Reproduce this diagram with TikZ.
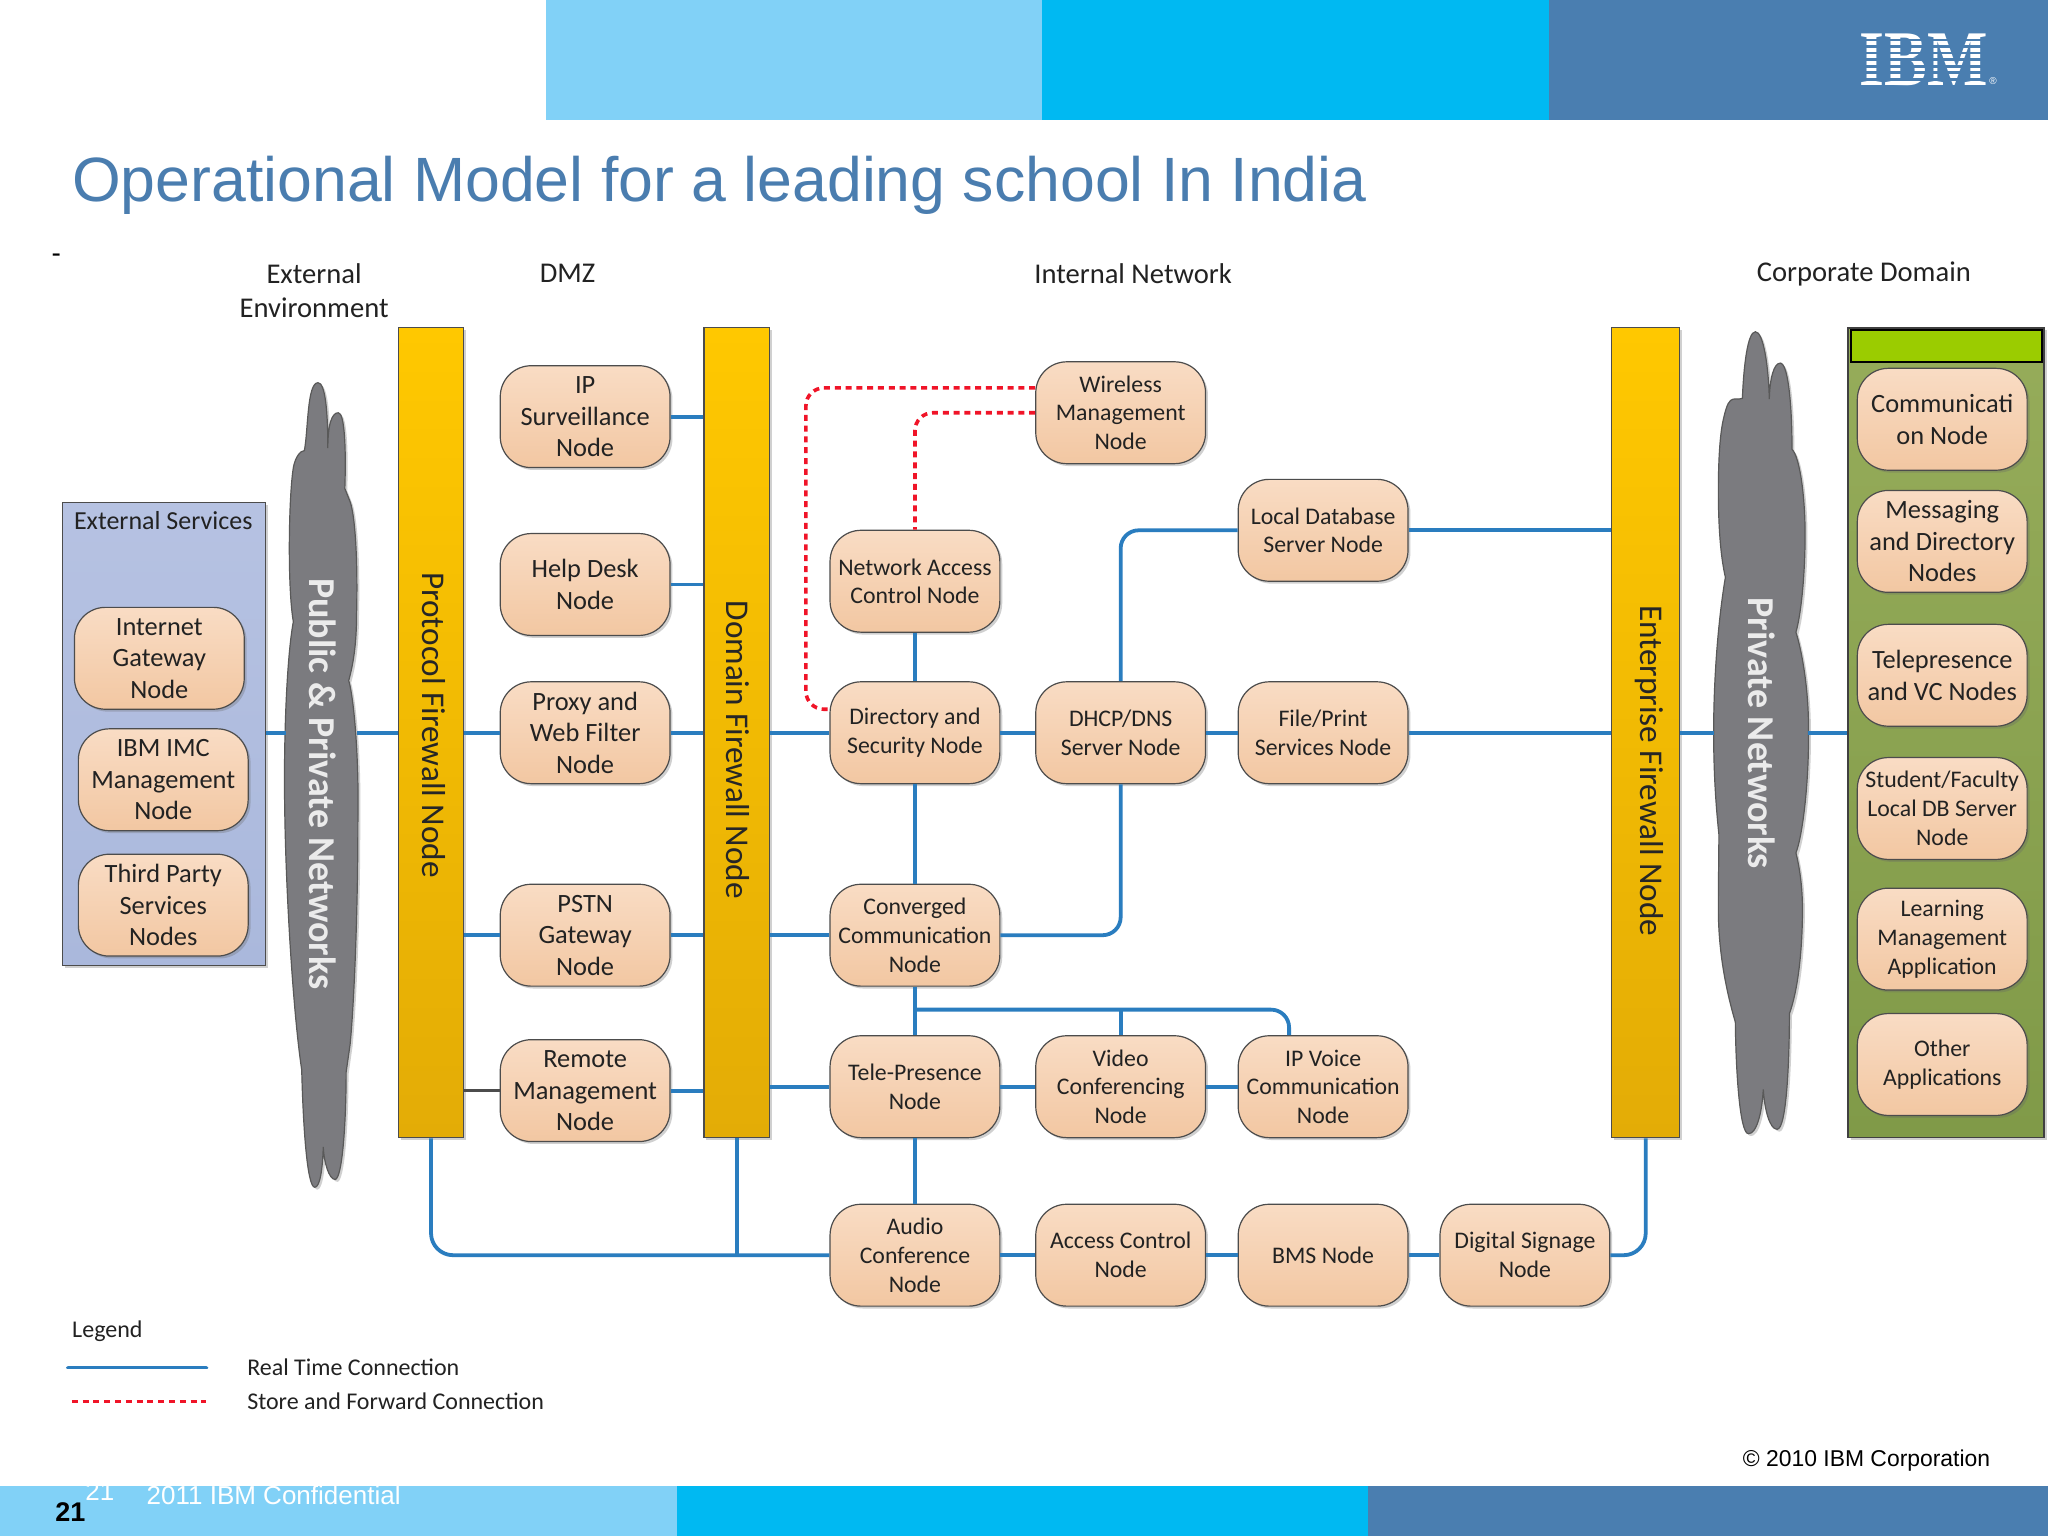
\documentclass[tikz,border=0pt]{standalone}
\usepackage{fontspec}
\usepackage{graphicx}
\setmainfont{Carlito}
\newfontfamily\arialf{Liberation Sans}
\newfontfamily\serifb{Liberation Serif}
\usetikzlibrary{shadows,calc}
\definecolor{bandL}{HTML}{81D1F7}
\definecolor{bandC}{HTML}{00B9F2}
\definecolor{bandB}{HTML}{4A7EB0}
\definecolor{titleblue}{HTML}{4A7DAF}
\definecolor{linkblue}{HTML}{2A7DBF}
\definecolor{linkred}{HTML}{F01428}
\definecolor{cloudgrey}{HTML}{7B7B7F}
\definecolor{ink}{HTML}{222222}
\definecolor{peachtop}{HTML}{F9DCC4}
\definecolor{peachbot}{HTML}{F2C7A2}
\definecolor{barTop}{HTML}{FFC800}
\definecolor{barBot}{HTML}{E3AC06}
\definecolor{extTop}{HTML}{B6C2E2}
\definecolor{extBot}{HTML}{AAB8DC}
\definecolor{corpTop}{HTML}{96AC5A}
\definecolor{corpBot}{HTML}{809A48}
\definecolor{corpBar}{HTML}{9BCC00}
\def\uu{0.65306}
\tikzset{
  softshadow/.style={drop shadow={shadow xshift=1.2pt,shadow yshift=-1.2pt,opacity=0.3,fill=black!60}},
  nodebase/.style={rounded corners=15.5pt,draw=black!70,line width=0.6pt,
    top color=peachtop,bottom color=peachbot,softshadow,text=ink,align=center,inner sep=0pt,
    minimum width=130*\uu pt,minimum height=78*\uu pt},
  bigbox/.style={nodebase,font=\fontsize{13.2}{15.7}\selectfont},
  smallbox/.style={nodebase,font=\fontsize{11.9}{14.4}\selectfont},
  barbox/.style={draw=black!70,line width=0.6pt,top color=barTop,bottom color=barBot,softshadow,inner sep=0pt,
    minimum height=620*\uu pt},
  bartext/.style={rotate=-90,font=\fontsize{16.6}{18}\selectfont,text=black!85,inner sep=0pt},
  cloudtext/.style={rotate=-90,font=\fontsize{19}{21}\selectfont\bfseries,text=white!92!black,inner sep=0pt},
  head/.style={font=\fontsize{14.3}{17}\selectfont,text=ink,align=center,inner sep=0pt},
  legendtext/.style={font=\fontsize{12}{14}\selectfont,text=ink,anchor=west,inner sep=0pt},
  realtime/.style={draw=linkblue,line width=1.9pt},
  storefwd/.style={draw=linkred,line width=1.8pt,dash pattern=on 3pt off 2.4pt},
  cloudshape/.style={fill=cloudgrey,draw=black!65,line width=0.6pt,softshadow},
}
\begin{document}
\begin{tikzpicture}[x=\uu pt,y=-\uu pt]
\useasboundingbox (0,0) rectangle (1568,1176);
\fill[white] (0,0) rectangle (1568,1176);
% top and bottom bands
\fill[bandL] (418,0) rectangle (798,92);
\fill[bandC] (798,0) rectangle (1186,92);
\fill[bandB] (1186,0) rectangle (1568,92);
\fill[bandL] (0,1138) rectangle (518,1176);
\fill[bandC] (518,1138) rectangle (1047,1176);
\fill[bandB] (1047,1138) rectangle (1568,1176);
% IBM logo: real text with stripes cut over it
\node[text=white,inner sep=0pt] (ibm) at (1473,45.5) {\resizebox{64pt}{25.8pt}{\serifb\bfseries IBM}};
\foreach \yy in {29.7,34.7,39.7,44.7,49.7,54.7,59.7}
  \fill[bandB] (1420,\yy) rectangle (1524,\yy+2);
\node[text=white,inner sep=0pt,font=\arialf\fontsize{5}{5}\selectfont] (reg) at (1526,62) {\textregistered};
% title
\node[anchor=west,inner sep=0pt,text=titleblue,font=\arialf\fontsize{31.3}{35}\selectfont] (title) at (55,142) {Operational Model for a leading school In India};
\node[inner sep=0pt,font=\arialf\fontsize{14}{14}\selectfont] (dash) at (43,198) {-};
% headers
\node[head] (h1) at (240.5,222.5) {External\\Environment};
\node[head] (h2) at (434.5,209.5) {DMZ};
\node[head] (h3) at (867.5,209.5) {Internal Network};
\node[head] (h4) at (1427,209.5) {Corporate Domain};
% panels
\node[draw=black!70,line width=0.6pt,top color=extTop,bottom color=extBot,softshadow,minimum width=155*\uu pt,minimum height=354*\uu pt,inner sep=0pt] (ext) at (125.5,562) {};
\node[head,font=\fontsize{13}{17}\selectfont] (exth) at (125,398.5) {External Services};
\node[draw=black!75,line width=0.7pt,top color=corpTop,bottom color=corpBot,softshadow,minimum width=150*\uu pt,minimum height=620*\uu pt,inner sep=0pt] (corp) at (1490,561) {};
\node[draw=black,line width=1pt,fill=corpBar,minimum width=146*\uu pt,minimum height=24*\uu pt,inner sep=0pt] (corpbar) at (1490,265) {};
% bars
\node[barbox,minimum width=50*\uu pt] (prot) at (330,561) {};
\node[barbox,minimum width=50*\uu pt] (dom) at (564,561) {};
\node[barbox,minimum width=52*\uu pt] (ent) at (1260,561) {};
\node[bartext] (protT) at (332,555) {Protocol Firewall Node};
\node[bartext] (domT) at (565,574) {Domain Firewall Node};
\node[bartext] (entT) at (1263,590) {Enterprise Firewall Node};
% nodes, left
\node[bigbox] (inet) at (122,504) {Internet\\Gateway\\Node};
\node[bigbox] (imc) at (125,597) {IBM IMC\\Management\\Node};
\node[bigbox] (third) at (125,693) {Third Party\\Services\\Nodes};
% DMZ
\node[bigbox] (ips) at (448,319) {IP\\Surveillance\\Node};
\node[bigbox] (help) at (448,447.5) {Help Desk\\Node};
\node[bigbox] (prox) at (448,561) {Proxy and\\Web Filter\\Node};
\node[bigbox] (pstn) at (448,716) {PSTN\\Gateway\\Node};
\node[bigbox] (rem) at (448,835) {Remote\\Management\\Node};
% internal
\node[smallbox] (wlm) at (858,316) {Wireless\\Management\\Node};
\node[smallbox] (ldb) at (1013,406) {Local Database\\Server Node};
\node[smallbox] (nac) at (700.5,445) {Network Access\\Control Node};
\node[smallbox] (dir) at (700.5,561) {Directory and\\Security Node};
\node[smallbox] (dhcp) at (858,561) {DHCP/DNS\\Server Node};
\node[smallbox] (file) at (1013,561) {File/Print\\Services Node};
\node[smallbox] (conv) at (700.5,716) {Converged\\Communication\\Node};
\node[smallbox] (tele) at (700.5,832) {Tele-Presence\\Node};
\node[smallbox] (video) at (858,832) {Video\\Conferencing\\Node};
\node[smallbox] (ipv) at (1013,832) {IP Voice\\Communication\\Node};
\node[smallbox] (audio) at (700.5,961) {Audio\\Conference\\Node};
\node[smallbox] (acc) at (858,961) {Access Control\\Node};
\node[smallbox] (bms) at (1013,961) {BMS Node};
\node[smallbox] (dig) at (1167.5,961) {Digital Signage\\Node};
% corporate
\node[bigbox] (comm) at (1487,321) {Communicati\\on Node};
\node[bigbox] (msg) at (1487,414.5) {Messaging\\and Directory\\Nodes};
\node[bigbox] (vc) at (1487,517) {Telepresence\\and VC Nodes};
\node[smallbox] (stu) at (1487,619) {Student/Faculty\\Local DB Server\\Node};
\node[smallbox] (lms) at (1487,719) {Learning\\Management\\Application};
\node[smallbox] (oth) at (1487,815) {Other\\Applications};
% clouds
\draw[cloudshape] (233,345)
  .. controls (236,330) and (235,293) .. (243.5,293)
  .. controls (249,293) and (251,315) .. (251,343)
  .. controls (251,325) and (254,316) .. (259,316)
  .. controls (264,316) and (265,345) .. (264,374)
  -- (268,384)
  .. controls (272,395) and (274,430) .. (273,470)
  .. controls (273,495) and (270,510) .. (267,521)
  .. controls (271,535) and (275,580) .. (274,630)
  .. controls (274,700) and (271,770) .. (268,800)
  -- (265,821)
  .. controls (265,860) and (262,903) .. (256.5,903)
  .. controls (252,903) and (248,890) .. (247.5,878)
  .. controls (247,895) and (245,909) .. (241,909)
  .. controls (235,909) and (232,860) .. (231,819)
  .. controls (225,780) and (219,690) .. (218,620)
  .. controls (217,560) and (220,500) .. (224.6,476)
  .. controls (220,450) and (221,380) .. (224.6,358)
  .. controls (226,350) and (230,345) .. (233,345) -- cycle;
\draw[cloudshape] (1327,305.6)
  .. controls (1331,305) and (1333,306) .. (1334,305)
  .. controls (1335,280) and (1338,254) .. (1344,254)
  .. controls (1350,254) and (1354,280) .. (1354.6,305.6)
  .. controls (1355,290) and (1358,278) .. (1363,278)
  .. controls (1369,278) and (1372,310) .. (1372,344)
  .. controls (1378,350) and (1382,380) .. (1382,409)
  .. controls (1382,440) and (1379,470) .. (1375,484)
  .. controls (1380,500) and (1385,530) .. (1384.6,560.6)
  .. controls (1385,600) and (1380,640) .. (1375,653)
  .. controls (1378,665) and (1380,680) .. (1380,696)
  .. controls (1380,730) and (1376,760) .. (1370,776)
  .. controls (1370,810) and (1368,864.6) .. (1360.6,864.6)
  .. controls (1355,864.6) and (1351,850) .. (1350,834)
  .. controls (1349,852) and (1345,868) .. (1338.6,868)
  .. controls (1332,868) and (1329,820) .. (1328.6,782.5)
  .. controls (1322,760) and (1315.6,730) .. (1315.6,696)
  .. controls (1315.6,675) and (1316,655) .. (1316,638.6)
  .. controls (1313,610) and (1312,585) .. (1312,560.6)
  .. controls (1312,510) and (1317,465) .. (1321,442)
  .. controls (1317,425) and (1315.6,400) .. (1315.6,376)
  .. controls (1315.6,350) and (1317,330) .. (1320,318.7)
  .. controls (1322,310) and (1324,306) .. (1327,305.6) -- cycle;
\node[cloudtext] (pubT) at (247,600) {Public \& Private Networks};
\node[cloudtext] (prvT) at (1349,561.5) {Private Networks};
\coordinate (pubW) at (219,561);
\coordinate (pubE) at (273.5,561);
\coordinate (prvW) at (1312.5,561);
\coordinate (prvE) at (1384,561);
% real time connectors
\draw[realtime] (ext.east |- pubW) -- (pubW);
\draw[realtime] (pubE) -- (prot.west |- pubE);
\draw[realtime] (prot.east |- prox.west) -- (prox.west);
\draw[realtime] (prox.east) -- (dom.west |- prox.east);
\draw[realtime] (dom.east |- dir.west) -- (dir.west);
\draw[realtime] (dir.east) -- (dhcp.west);
\draw[realtime] (dhcp.east) -- (file.west);
\draw[realtime] (file.east) -- (ent.west |- file.east);
\draw[realtime] (ent.east |- prvW) -- (prvW);
\draw[realtime] (prvE) -- (corp.west |- prvE);
\draw[realtime] (ips.east) -- (dom.west |- ips.east);
\draw[realtime] (help.east) -- (dom.west |- help.east);
\draw[realtime] (prot.east |- pstn.west) -- (pstn.west);
\draw[realtime] (pstn.east) -- (dom.west |- pstn.east);
\draw[realtime] (rem.east) -- (dom.west |- rem.east);
\draw[line width=1.7pt,draw=black!70] (prot.east |- rem.west) -- (rem.west);
\draw[realtime] (dom.east |- conv.west) -- (conv.west);
\draw[realtime] (dom.east |- tele.west) -- (tele.west);
\draw[realtime,rounded corners=9pt] (conv.east) -| (dhcp.south);
\draw[realtime,rounded corners=9pt] (dhcp.north) |- (ldb.west);
\draw[realtime] (ldb.east) -- (ent.west |- ldb.east);
\draw[realtime] (nac.south) -- (dir.north);
\draw[realtime] (dir.south) -- (conv.north);
\draw[realtime] (conv.south) -- (tele.north);
\draw[realtime] (tele.south) -- (audio.north);
\coordinate (br) at (700.5,773);
\draw[realtime,rounded corners=9pt] (br) -| ([xshift=-17pt]ipv.north);
\draw[realtime] (br -| video.north) -- (video.north);
\draw[realtime] (tele.east) -- (video.west);
\draw[realtime] (video.east) -- (ipv.west);
\draw[realtime] (audio.east) -- (acc.west);
\draw[realtime] (acc.east) -- (bms.west);
\draw[realtime] (bms.east) -- (dig.west);
\draw[realtime,rounded corners=11pt] (dig.east) -| (ent.south);
\draw[realtime,rounded corners=11pt] (audio.west) -| (prot.south);
\draw[realtime] (dom.south) -- (dom.south |- audio.west);
% store and forward connectors
\coordinate (rA) at (617,297);
\coordinate (rB) at (617,543);
\draw[storefwd,rounded corners=9pt] ([yshift=12.4pt]wlm.west) -- (rA) -- (rB) -- ([yshift=11.75pt]dir.west);
\draw[storefwd,rounded corners=9pt] (wlm.west) -| (nac.north);
% legend
\node[legendtext] (legT) at (55,1019) {Legend};
\node[legendtext] (leg1) at (189,1047) {Real Time Connection};
\node[legendtext] (leg2) at (189,1073) {Store and Forward Connection};
\coordinate (l1a) at (52,1047);
\coordinate (l1b) at (158,1047);
\coordinate (l2a) at (55,1073);
\coordinate (l2b) at (158,1073);
\draw[realtime,line cap=round] (l1a) -- (l1b);
\draw[storefwd] (l2a) -- (l2b);
% footer
\node[anchor=east,inner sep=0pt,font=\arialf\fontsize{11.45}{14}\selectfont] (copy) at (1524,1118) {© 2010 IBM Corporation};
\node[anchor=west,inner sep=0pt,text=white,font=\arialf\fontsize{13}{15}\selectfont] (conf) at (112,1145) {2011 IBM Confidential};
\node[anchor=west,inner sep=0pt,text=white,font=\arialf\fontsize{13}{15}\selectfont] (pg2) at (65,1142) {21};
\node[anchor=west,inner sep=0pt,font=\arialf\bfseries\fontsize{13.5}{15}\selectfont] (pg) at (42,1158) {21};
\end{tikzpicture}
\end{document}
